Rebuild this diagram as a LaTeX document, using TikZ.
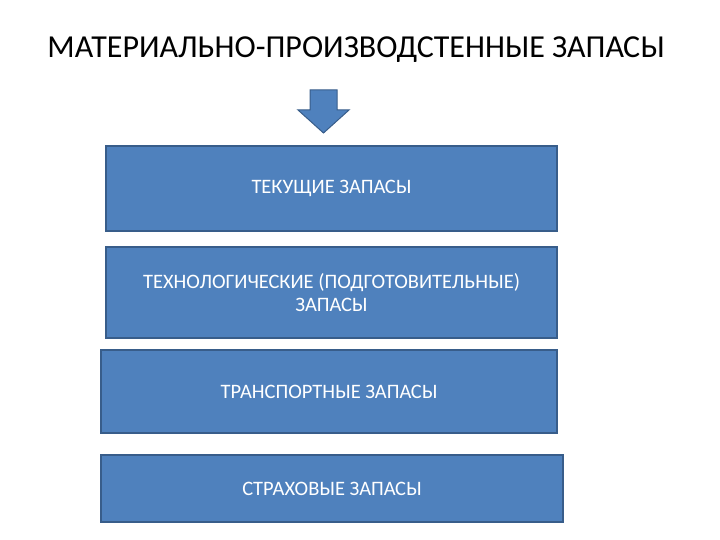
\documentclass[tikz,border=0pt]{standalone}
\usepackage{fontspec}
\setmainfont{Carlito}
\begin{document}
\begin{tikzpicture}[x=1pt,y=-1pt,
  box/.style={draw=edgeblue, line width=1.5pt, fill=fillblue, text=white, align=center, font=\fontsize{20.5}{22.5}\selectfont, inner sep=0pt}]
\definecolor{fillblue}{HTML}{4F81BD}
\definecolor{edgeblue}{HTML}{385D8A}
\useasboundingbox (0,0) rectangle (720,540);
\node[font=\fontsize{32}{36}\selectfont] (title) at (356,50) {МАТЕРИАЛЬНО-ПРОИЗВОДСТЕННЫЕ ЗАПАСЫ};
\draw[fill=fillblue, draw=edgeblue, line width=1pt] (310,90) -- (337,90) -- (337,110) -- (349,110) -- (323.5,133) -- (298,110) -- (310,110) -- cycle;
\node[box, minimum width=451pt, minimum height=85pt] (b1) at (331.5,188.5) {ТЕКУЩИЕ ЗАПАСЫ};
\node[box, minimum width=451pt, minimum height=91pt] (b2) at (331.5,292.5) {ТЕХНОЛОГИЧЕСКИЕ (ПОДГОТОВИТЕЛЬНЫЕ)\\ЗАПАСЫ};
\node[box, minimum width=456pt, minimum height=83pt] (b3) at (329,391.5) {ТРАНСПОРТНЫЕ ЗАПАСЫ};
\node[box, minimum width=462pt, minimum height=67pt] (b4) at (332,488.5) {СТРАХОВЫЕ ЗАПАСЫ};
\end{tikzpicture}
\end{document}
